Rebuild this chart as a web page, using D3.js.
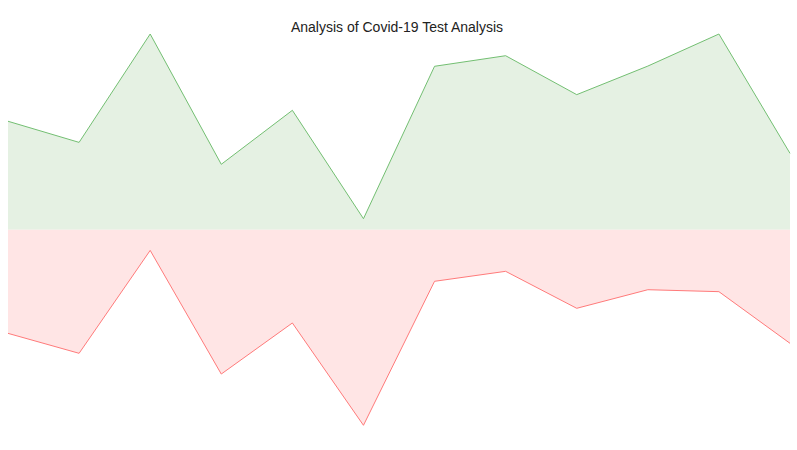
<!DOCTYPE html>
<html>
<head>
<meta charset="utf-8">
<script src="https://cdn.jsdelivr.net/npm/d3@7"></script>
<style>
  body { margin: 0; background: #fff; }
  .title { font-family: "Liberation Sans", Arial, sans-serif; font-size: 14px; fill: #222; }
</style>
</head>
<body>
<script>
// chart data
var categories = ["W1", "W2", "W3", "W4", "W5", "W6", "W7", "W8", "W9", "W10", "W11", "W12"];
var negativeTests = [55.4, 44.6, 100, 33.4, 61.0, 5.6, 83.5, 88.9, 69.0, 83.6, 100, 39.0];
var positiveTests = [53.0, 63.2, 10.6, 73.8, 47.7, 100, 26.4, 21.3, 40.2, 30.7, 31.7, 58.1];

window.onload = drawChart();

function drawChart(){
    var width = 797,
        height = 450;

    var svg = d3.select("body")
        .append("svg")
        .attr("width", width)
        .attr("height", height);

    var x = d3.scalePoint()
        .domain(categories)
        .range([8, 790]);

    var y = d3.scaleLinear()
        .domain([-100, 100])
        .range([425.3, 34]);

    //green area above the baseline
    var upArea = d3.area()
        .x(function(d, i){ return x(categories[i]); })
        .y0(y(0))
        .y1(function(d){ return y(d); });

    var upLine = d3.line()
        .x(function(d, i){ return x(categories[i]); })
        .y(function(d){ return y(d); });

    //red area below the baseline
    var downArea = d3.area()
        .x(function(d, i){ return x(categories[i]); })
        .y0(y(0))
        .y1(function(d){ return y(-d); });

    var downLine = d3.line()
        .x(function(d, i){ return x(categories[i]); })
        .y(function(d){ return y(-d); });

    svg.append("path")
        .datum(negativeTests)
        .attr("fill", "#e5f1e3")
        .attr("d", upArea);

    svg.append("path")
        .datum(positiveTests)
        .attr("fill", "#ffe5e5")
        .attr("d", downArea);

    svg.append("path")
        .datum(negativeTests)
        .attr("fill", "none")
        .attr("stroke", "#73bf72")
        .attr("stroke-width", 1)
        .attr("d", upLine);

    svg.append("path")
        .datum(positiveTests)
        .attr("fill", "none")
        .attr("stroke", "#ff7a7a")
        .attr("stroke-width", 1)
        .attr("d", downLine);

    svg.append("text")
        .attr("class", "title")
        .attr("x", 397)
        .attr("y", 31.5)
        .attr("text-anchor", "middle")
        .text("Analysis of Covid-19 Test Analysis");
}
</script>
</body>
</html>
